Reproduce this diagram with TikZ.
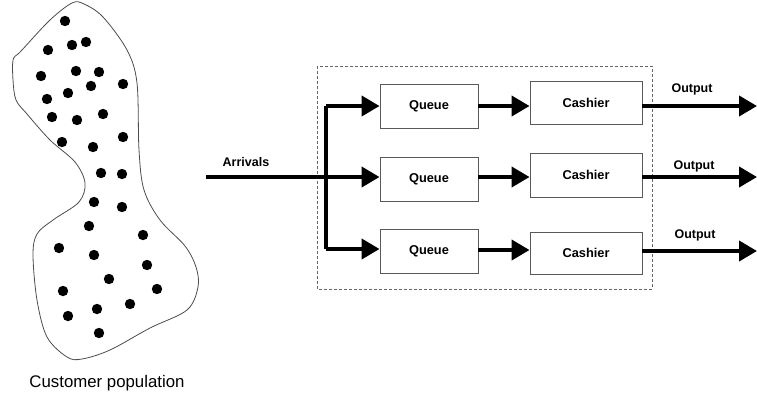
\documentclass[tikz,border=0pt]{standalone}
\usepackage{fontspec}
\setmainfont{Liberation Sans}
\usetikzlibrary{arrows.meta}
\begin{document}
\begin{tikzpicture}[x=1pt,y=-1pt,
  boxstyle/.style={draw=black!65,line width=0.9pt,inner sep=0pt,font=\fontsize{12.8}{15}\selectfont\bfseries},
  qbox/.style={boxstyle,minimum width=98pt,minimum height=44pt},
  cbox/.style={boxstyle,minimum width=112pt,minimum height=43pt},
  arr/.style={line width=4pt,-{Triangle[length=18pt,width=20pt]}},
  thick line/.style={line width=4pt},
  lbl/.style={font=\fontsize{12.5}{15}\selectfont\bfseries,inner sep=0pt},
  dot/.style={fill=black},
]
\useasboundingbox (0,0) rectangle (757,397);
% customer population blob
\draw[black!70,line width=0.8pt] plot[smooth cycle,tension=0.55] coordinates {
 (72,3) (50,20) (22,50) (18,54) (13,60) (13,80) (16,100) (27,114) (50,140) (75,162)
 (85,183) (79,202) (53,220) (37,234) (33,255) (37,300) (47,337) (67,357) (82,359)
 (110,350) (150,328) (187,310) (198,287) (196,267) (185,246) (160,220) (144,190)
 (139,150) (137,83) (127,50) (103,17) (84,4)};
\foreach \px/\py [count=\i] in {65/21,48/50,72/45,86/42,41/76,76/71,99/72,123/84,91/86,68/93,
  47/99,52/117,77/120,103/114,62/142,93/147,123/137,101/173,122/174,94/202,122/207,
  89/226,143/235,59/248,94/255,147/265,109/279,63/291,157/289,97/309,130/304,68/316,99/333}
  \fill[dot] (\px,\py) circle (5.2pt);
\node[font=\fontsize{16.8}{18}\selectfont,inner sep=0pt] (pop) at (107,383) {Customer population};
% system box
\draw[black!60,line width=0.9pt,dash pattern=on 3pt off 2pt] (317,66) rectangle (652,289);
\node[qbox] (q1) at (429,106) {Queue};
\node[qbox] (q2) at (429,179) {Queue};
\node[qbox] (q3) at (429,251.5) {Queue};
\node[cbox] (c1) at (586,102.5) {Cashier};
\node[cbox,minimum height=44pt] (c2) at (586,175) {Cashier};
\node[cbox,minimum height=42pt] (c3) at (586,253) {Cashier};
% arrivals
\coordinate (src) at (206,177);
\coordinate (br1) at (326,106);
\coordinate (br3) at (326,249);
\node[lbl] (arrl) at (246,162) {Arrivals};
\draw[arr] (src) -- (src -| q2.west);
\draw[thick line,line join=round] (br1) -- (br3);
\draw[arr] (br1) -- (br1 -| q1.west);
\draw[arr] (br3) -- (br3 -| q3.west);
% queue to cashier
\draw[arr] (q1.east |- 0,106) -- (c1.west |- 0,106);
\draw[arr] (q2.east |- 0,177) -- (c2.west |- 0,177);
\draw[arr] (q3.east |- 0,250) -- (c3.west |- 0,250);
% outputs
\coordinate (o1) at (757,106);
\coordinate (o2) at (757,177);
\coordinate (o3) at (757,251);
\draw[arr] (c1.east |- o1) -- (o1);
\draw[arr] (c2.east |- o2) -- (o2);
\draw[arr] (c3.east |- o3) -- (o3);
\node[lbl] (out1) at (692,89) {Output};
\node[lbl] (out2) at (694,166) {Output};
\node[lbl] (out3) at (695,235) {Output};
\end{tikzpicture}
\end{document}
